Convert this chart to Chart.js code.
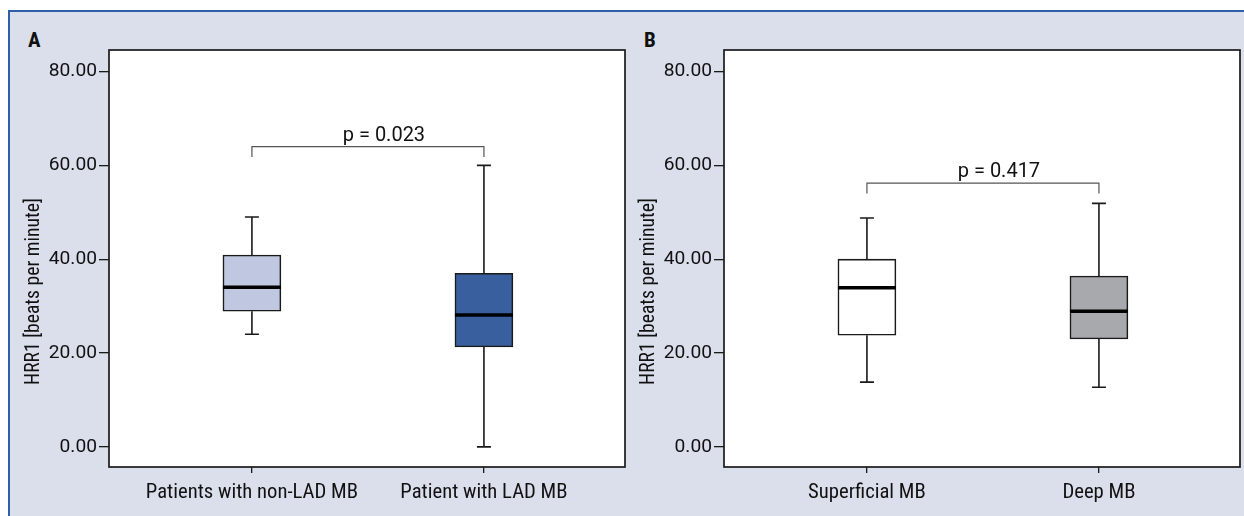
<!DOCTYPE html>
<html>
  <head>
    <title>HRR1 box plots</title>
    <script src="https://cdn.jsdelivr.net/npm/chart.js"></script>
    <style>
      body { margin: 0; background: #fff; width: 1244px; height: 516px; position: relative; overflow: hidden; }
      #frame { position: absolute; left: 8px; top: 10px; right: 0; bottom: 0; background: #dbdfec;
               border-top: 2px solid #2f5fa8; border-left: 2px solid #2f5fa8; }
      .panel-letter { position: absolute; font: bold 21px Roboto, sans-serif; font-stretch: condensed; color: #111; line-height: 21px; }
      canvas { position: absolute; top: 0; }
    </style>
  </head>
  <body>
    <div id="frame"></div>
    <div class="panel-letter" style="left:28px; top:30px;">A</div>
    <div class="panel-letter" style="left:644px; top:30px;">B</div>
    <canvas id="chart-a" width="630" height="516" style="left:0"></canvas>
    <canvas id="chart-b" width="614" height="516" style="left:630px"></canvas>

    <script>
      // panel A
      const categoriesA = ['Patients with non-LAD MB', 'Patient with LAD MB'];
      const whiskerLowA = [24.0, 0.0];
      const q1A = [28.9, 21.3];
      const medianA = [34.0, 28.1];
      const q3A = [40.9, 37.0];
      const whiskerHighA = [49.0, 60.0];
      const pLabelA = 'p = 0.023';
      const bracketA = 64.0;

      // panel B
      const categoriesB = ['Superficial MB', 'Deep MB'];
      const whiskerLowB = [13.8, 12.7];
      const q1B = [23.8, 23.0];
      const medianB = [33.9, 28.9];
      const q3B = [40.0, 36.4];
      const whiskerHighB = [48.8, 51.9];
      const pLabelB = 'p = 0.417';
      const bracketB = 56.2;

      const yTicks = [0, 20, 40, 60, 80];
      const yTitle = 'HRR1 [beats per minute]';

      // no condensed face installed, so ask Roboto for its condensed width through the font shorthand
      const LABEL_FONT = { family: 'Roboto', size: 20.7, weight: 'condensed' };
      const NUM_FONT = { family: 'Roboto', size: 19.2 };
      const P_FONT = '20px Roboto';
      const TITLE_FONT = 'condensed 19.6px Roboto';
      const INK = '#1a1a1a';

      // white plot area, whiskers, medians, frame, bracket and y title, all placed with the chart's scales
      const boxExtras = {
        id: 'boxExtras',
        beforeDraw(chart) {
          const {ctx, chartArea: a} = chart;
          ctx.save();
          ctx.fillStyle = '#fff';
          ctx.fillRect(a.left, a.top, a.right - a.left, a.bottom - a.top);
          ctx.restore();
        },
        beforeDatasetsDraw(chart) {
          const {ctx, scales: {x, y}} = chart;
          const s = chart.options.plugins.boxExtras;
          ctx.save();
          ctx.strokeStyle = INK;
          ctx.lineWidth = 1.6;
          s.low.forEach((lo, i) => {
            const px = x.getPixelForValue(i);
            const capHalf = 7;
            [[lo, s.q1[i]], [s.high[i], s.q3[i]]].forEach(([end, edge]) => {
              const ye = y.getPixelForValue(end);
              ctx.beginPath();
              ctx.moveTo(px, y.getPixelForValue(edge));
              ctx.lineTo(px, ye);
              ctx.moveTo(px - capHalf, ye);
              ctx.lineTo(px + capHalf, ye);
              ctx.stroke();
            });
          });
          ctx.restore();
        },
        afterDatasetsDraw(chart) {
          const {ctx, chartArea: a, scales: {x, y}} = chart;
          const s = chart.options.plugins.boxExtras;
          const bars = chart.getDatasetMeta(0).data;
          ctx.save();
          // medians
          ctx.strokeStyle = '#000';
          ctx.lineWidth = 3.5;
          s.median.forEach((m, i) => {
            const px = x.getPixelForValue(i);
            const half = bars[i].width / 2;
            const py = y.getPixelForValue(m);
            ctx.beginPath();
            ctx.moveTo(px - half, py);
            ctx.lineTo(px + half, py);
            ctx.stroke();
          });
          // p-value bracket
          const bx0 = x.getPixelForValue(0);
          const bx1 = x.getPixelForValue(1);
          const by = y.getPixelForValue(s.bracket);
          const drop = y.getPixelForValue(s.bracket - 2.2) - by;
          ctx.strokeStyle = '#555';
          ctx.lineWidth = 1.2;
          ctx.beginPath();
          ctx.moveTo(bx0, by + drop);
          ctx.lineTo(bx0, by);
          ctx.lineTo(bx1, by);
          ctx.lineTo(bx1, by + drop);
          ctx.stroke();
          ctx.fillStyle = '#111';
          ctx.font = P_FONT;
          ctx.textAlign = 'center';
          ctx.textBaseline = 'alphabetic';
          ctx.fillText(s.pLabel, (bx0 + bx1) / 2 + 16, by - 6);
          // plot frame
          ctx.strokeStyle = INK;
          ctx.lineWidth = 1.7;
          ctx.strokeRect(a.left, a.top, a.right - a.left, a.bottom - a.top);
          // y title
          ctx.font = TITLE_FONT;
          ctx.translate(a.left - 75, (a.top + a.bottom) / 2 + 33);
          ctx.rotate(-Math.PI / 2);
          ctx.textBaseline = 'middle';
          ctx.fillText(yTitle, 0, 0);
          ctx.restore();
        }
      };

      const makeChart = (id, cats, low, q1, med, q3, high, fills, pLabel, bracket, yWidth, padRight) => {
        return new Chart(document.getElementById(id), {
          type: 'bar',
          data: {
            datasets: [{
              data: cats.map((c, i) => ({ x: i, y: [q1[i], q3[i]] })),
              backgroundColor: fills,
              borderColor: INK,
              borderWidth: 1.6,
              borderSkipped: false,
              barThickness: 58,
            }],
          },
          options: {
            responsive: false,
            animation: false,
            events: [],
            layout: { padding: { top: 50, right: padRight, left: 0, bottom: 0 } },
            plugins: {
              legend: { display: false },
              tooltip: { enabled: false },
              boxExtras: { low, q1, median: med, q3, high, pLabel, bracket },
            },
            scales: {
              x: {
                type: 'linear',
                offset: false,
                min: -0.616,
                max: 1.608,
                afterBuildTicks: (scale) => { scale.ticks = cats.map((c, i) => ({ value: i })); },
                afterFit: (scale) => { scale.height = 49; },
                ticks: {
                  callback: (v) => cats[v],
                  color: '#111',
                  font: LABEL_FONT,
                  padding: 7,
                  maxRotation: 0,
                },
                grid: { offset: false, drawOnChartArea: false, drawTicks: true, tickLength: 6, color: INK, lineWidth: 1.3 },
                border: { display: false },
              },
              y: {
                min: -4.3,
                max: 84.6,
                afterBuildTicks: (scale) => { scale.ticks = yTicks.map(v => ({ value: v })); },
                afterFit: (scale) => { scale.width = yWidth; },
                ticks: {
                  callback: (v) => v.toFixed(2),
                  color: '#111',
                  font: NUM_FONT,
                  padding: 2,
                },
                grid: { drawOnChartArea: false, drawTicks: true, tickLength: 10, color: INK, lineWidth: 1.3 },
                border: { display: false },
              },
            },
          },
          plugins: [boxExtras],
        });
      };

      makeChart('chart-a', categoriesA, whiskerLowA, q1A, medianA, q3A, whiskerHighA,
        ['#c0c8e1', '#395f9e'], pLabelA, bracketA, 109, 5);
      makeChart('chart-b', categoriesB, whiskerLowB, q1B, medianB, q3B, whiskerHighB,
        ['#ffffff', '#a8a9ad'], pLabelB, bracketB, 94, 4);
    </script>
  </body>
</html>
